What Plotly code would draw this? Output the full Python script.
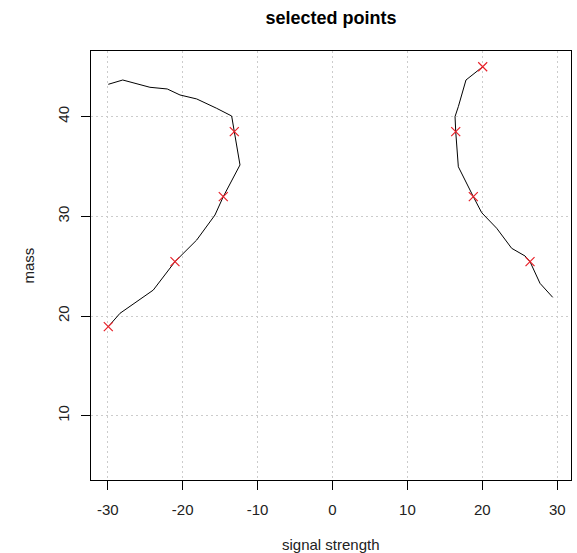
import plotly.graph_objects as go

# left branch curve
left_x = [-29.93, -28.0, -24.37, -22.06, -20.36, -18.13, -15.46, -13.46, -13.11, -12.35,
          -14.58, -15.69, -18.13, -21.03, -23.93, -28.37, -29.93]
left_y = [43.24, 43.67, 42.94, 42.77, 42.17, 41.77, 40.83, 40.06, 38.49, 35.15,
          31.97, 30.13, 27.62, 25.45, 22.6, 20.27, 18.93]

# right branch curve
right_x = [20.05, 17.82, 16.8, 16.36, 16.45, 16.8, 18.8, 19.92, 21.92, 23.92,
           25.7, 26.37, 27.7, 29.4]
right_y = [45.0, 43.67, 41.0, 40.0, 38.49, 34.97, 31.97, 30.36, 28.8, 26.79,
           26.02, 25.45, 23.28, 21.87]

# selected points
sel_x = [-13.11, -14.58, -21.03, -29.93, 20.05, 16.45, 18.8, 26.37]
sel_y = [38.49, 31.97, 25.45, 18.93, 45.0, 38.49, 31.97, 25.45]

x_ticks = [-30, -20, -10, 0, 10, 20, 30]
x_tick_labels = ["-30", "-20", "-10", "0", "10", "20", "30"]
y_ticks = [10, 20, 30, 40]
y_tick_labels = ["10", "20", "30", "40"]

FONT = "Liberation Sans, Arial, sans-serif"

fig = go.Figure()
fig.add_trace(go.Scatter(x=left_x, y=left_y, mode="lines",
                         line=dict(color="black", width=1), showlegend=False))
fig.add_trace(go.Scatter(x=right_x, y=right_y, mode="lines",
                         line=dict(color="black", width=1), showlegend=False))
fig.add_trace(go.Scatter(x=sel_x, y=sel_y, mode="markers",
                         marker=dict(symbol="x-thin", size=9,
                                     line=dict(color="#e8222a", width=1.2)),
                         showlegend=False))

axis_common = dict(
    showline=True, linecolor="black", linewidth=1, mirror=True,
    ticks="outside", ticklen=9, tickcolor="black",
    showgrid=True, gridcolor="#cccccc", griddash="2px,3px", gridwidth=1,
    zeroline=False,
    tickfont=dict(family=FONT, size=15, color="#222"),
)

fig.update_xaxes(range=[-32.24, 31.84], tickvals=x_ticks, ticktext=x_tick_labels,
                 ticklabelstandoff=7, **axis_common)
fig.update_yaxes(range=[3.55, 46.58], tickvals=y_ticks, ticktext=y_tick_labels,
                 tickangle=-90, ticklabelstandoff=6, **axis_common)

fig.update_layout(
    width=577, height=553,
    margin=dict(l=91, r=6, t=51, b=73),
    paper_bgcolor="white", plot_bgcolor="white",
    title=dict(text="<b>selected points</b>", x=331 / 577, xanchor="center",
               y=1 - 18 / 553, yanchor="middle",
               font=dict(family=FONT, size=18, color="black")),
    annotations=[
        dict(text="signal strength", xref="paper", yref="paper", x=0.5, y=0,
             xanchor="center", yanchor="middle", yshift=-64, showarrow=False,
             font=dict(family=FONT, size=15, color="#222")),
        dict(text="mass", xref="paper", yref="paper", x=0, y=0.5,
             xanchor="center", yanchor="middle", xshift=-63, textangle=-90,
             showarrow=False, font=dict(family=FONT, size=15, color="#222")),
    ],
)

fig.write_html("out.html")
